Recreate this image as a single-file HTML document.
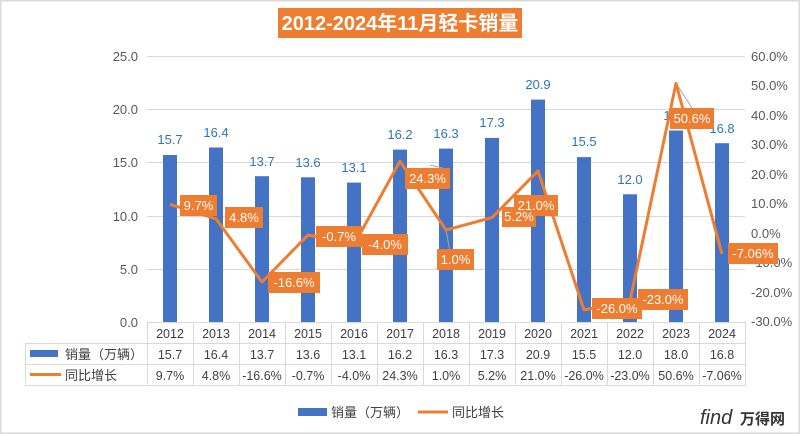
<!DOCTYPE html>
<html><head><meta charset="utf-8"><style>
body{margin:0;background:#fff}
svg{display:block;font-family:"Liberation Sans","Noto Sans CJK SC",sans-serif}
</style></head><body>
<svg width="800" height="434" viewBox="0 0 800 434">
<rect x="0.5" y="0.5" width="799" height="433" fill="#fff" stroke="#d9d9d9" stroke-width="2"/>
<rect x="278" y="8" width="244" height="30" fill="#ed7d31"/>
<text x="400" y="30" text-anchor="middle" font-size="20" font-weight="bold" fill="#fff">2012-2024年11月轻卡销量</text>
<g stroke="#d9d9d9" stroke-width="1">
<line x1="147" x2="745" y1="56.5" y2="56.5"/><line x1="147" x2="745" y1="109.5" y2="109.5"/>
<line x1="147" x2="745" y1="162.5" y2="162.5"/><line x1="147" x2="745" y1="216.5" y2="216.5"/>
<line x1="147" x2="745" y1="269.5" y2="269.5"/>
</g>
<g font-size="13" fill="#595959" text-anchor="end">
<text x="138" y="61">25.0</text><text x="138" y="114">20.0</text><text x="138" y="167">15.0</text>
<text x="138" y="221">10.0</text><text x="138" y="274">5.0</text><text x="138" y="327">0.0</text>
</g>
<g font-size="13" fill="#595959" text-anchor="start">
<text x="751" y="61">60.0%</text><text x="751" y="90">50.0%</text><text x="751" y="120">40.0%</text>
<text x="751" y="149">30.0%</text><text x="751" y="179">20.0%</text><text x="751" y="208">10.0%</text>
<text x="751" y="238">0.0%</text><text x="751" y="267">-10.0%</text><text x="751" y="297">-20.0%</text>
<text x="751" y="326">-30.0%</text>
</g>
<g fill="#4472c4">
<rect x="163" y="155" width="14" height="167"/><rect x="209" y="147.5" width="14" height="174.5"/>
<rect x="255" y="176.2" width="14" height="145.8"/><rect x="301" y="177.3" width="14" height="144.7"/>
<rect x="347" y="182.6" width="14" height="139.4"/><rect x="393" y="149.6" width="14" height="172.4"/>
<rect x="439" y="148.6" width="14" height="173.4"/><rect x="485" y="137.9" width="14" height="184.1"/>
<rect x="531" y="99.6" width="14" height="222.4"/><rect x="577" y="157.1" width="14" height="164.9"/>
<rect x="623" y="194.3" width="14" height="127.7"/><rect x="669" y="130.5" width="14" height="191.5"/>
<rect x="715" y="143.2" width="14" height="178.8"/>
</g>
<g font-size="13" fill="#2e75b6" text-anchor="middle">
<text x="170" y="144">15.7</text><text x="216" y="137">16.4</text><text x="262" y="166">13.7</text>
<text x="308" y="167">13.6</text><text x="354" y="172">13.1</text><text x="400" y="139">16.2</text>
<text x="446" y="138">16.3</text><text x="492" y="127">17.3</text><text x="538" y="89">20.9</text>
<text x="584" y="146">15.5</text><text x="630" y="184">12.0</text><text x="676" y="120">18.0</text>
<text x="722" y="133">16.8</text>
</g>
<g stroke="#a6a6a6" stroke-width="1">
<line x1="430" y1="165" x2="450" y2="170"/><line x1="450" y1="252" x2="446" y2="230"/>
<line x1="676" y1="83" x2="692" y2="108"/>
</g>
<polyline fill="none" stroke="#ed7d31" stroke-width="3" stroke-linejoin="round" points="170,204.3 216,218.8 262,282 308,235 354,244.8 400,161.2 446,230 492,217.6 538,170.9 584,309.9 630,301 676,83.4 722,253.9"/>
<g fill="#ed7d31">
<rect x="180" y="195" width="37" height="21"/><rect x="225" y="207" width="38" height="21"/>
<rect x="268" y="272" width="52" height="21"/><rect x="316" y="226" width="46" height="21"/>
<rect x="362" y="234" width="46" height="21"/><rect x="405" y="168" width="45" height="21"/>
<rect x="437" y="249" width="37" height="21"/><rect x="502" y="207" width="34" height="20"/>
<rect x="514" y="195" width="44" height="21"/><rect x="592" y="298" width="50" height="21"/>
<rect x="638" y="289" width="50" height="21"/><rect x="670" y="108" width="44" height="21"/>
<rect x="728" y="243" width="50" height="21"/>
</g>
<g font-size="13" fill="#fff" text-anchor="middle">
<text x="198.5" y="210">9.7%</text><text x="244" y="222">4.8%</text><text x="294" y="287">-16.6%</text>
<text x="339" y="241">-0.7%</text><text x="385" y="249">-4.0%</text><text x="427.5" y="183">24.3%</text>
<text x="455.5" y="264">1.0%</text><text x="519" y="221">5.2%</text><text x="536" y="210">21.0%</text>
<text x="617" y="313">-26.0%</text><text x="663" y="304">-23.0%</text><text x="692" y="123">50.6%</text>
<text x="753" y="258">-7.06%</text>
</g>
<g stroke="#d9d9d9" stroke-width="1" fill="none">
<line x1="147" y1="322.5" x2="745" y2="322.5"/>
<line x1="25" y1="343.5" x2="745" y2="343.5"/><line x1="25" y1="364.5" x2="745" y2="364.5"/>
<line x1="25" y1="385.5" x2="745" y2="385.5"/>
<line x1="25.5" y1="343" x2="25.5" y2="386"/>
<line x1="147.5" y1="322" x2="147.5" y2="386"/><line x1="193.5" y1="322" x2="193.5" y2="386"/>
<line x1="239.5" y1="322" x2="239.5" y2="386"/><line x1="285.5" y1="322" x2="285.5" y2="386"/>
<line x1="331.5" y1="322" x2="331.5" y2="386"/><line x1="377.5" y1="322" x2="377.5" y2="386"/>
<line x1="423.5" y1="322" x2="423.5" y2="386"/><line x1="469.5" y1="322" x2="469.5" y2="386"/>
<line x1="515.5" y1="322" x2="515.5" y2="386"/><line x1="561.5" y1="322" x2="561.5" y2="386"/>
<line x1="607.5" y1="322" x2="607.5" y2="386"/><line x1="653.5" y1="322" x2="653.5" y2="386"/>
<line x1="699.5" y1="322" x2="699.5" y2="386"/><line x1="745.5" y1="322" x2="745.5" y2="386"/>
</g>
<rect x="30" y="350" width="28" height="7" fill="#4472c4"/>
<line x1="30" y1="374.5" x2="61" y2="374.5" stroke="#ed7d31" stroke-width="3"/>
<g font-size="13" fill="#404040">
<text x="65" y="359">销量（万辆）</text><text x="65" y="380">同比增长</text>
</g>
<g font-size="12.5" fill="#404040" text-anchor="middle">
<text x="170" y="338">2012</text><text x="216" y="338">2013</text><text x="262" y="338">2014</text><text x="308" y="338">2015</text><text x="354" y="338">2016</text><text x="400" y="338">2017</text><text x="446" y="338">2018</text><text x="492" y="338">2019</text><text x="538" y="338">2020</text><text x="584" y="338">2021</text><text x="630" y="338">2022</text><text x="676" y="338">2023</text><text x="722" y="338">2024</text>
<text x="170" y="359">15.7</text><text x="216" y="359">16.4</text><text x="262" y="359">13.7</text><text x="308" y="359">13.6</text><text x="354" y="359">13.1</text><text x="400" y="359">16.2</text><text x="446" y="359">16.3</text><text x="492" y="359">17.3</text><text x="538" y="359">20.9</text><text x="584" y="359">15.5</text><text x="630" y="359">12.0</text><text x="676" y="359">18.0</text><text x="722" y="359">16.8</text>
<text x="170" y="380">9.7%</text><text x="216" y="380">4.8%</text><text x="262" y="380">-16.6%</text><text x="308" y="380">-0.7%</text><text x="354" y="380">-4.0%</text><text x="400" y="380">24.3%</text><text x="446" y="380">1.0%</text><text x="492" y="380">5.2%</text><text x="538" y="380">21.0%</text><text x="584" y="380">-26.0%</text><text x="630" y="380">-23.0%</text><text x="676" y="380">50.6%</text><text x="722" y="380">-7.06%</text>
</g>
<rect x="298" y="408" width="29" height="8" fill="#4472c4"/>
<text x="331" y="417" font-size="13" fill="#404040">销量（万辆）</text>
<line x1="418" y1="412" x2="448" y2="412" stroke="#ed7d31" stroke-width="3"/>
<text x="452" y="417" font-size="13" fill="#404040">同比增长</text>
<text x="700" y="424" font-size="20" fill="#333" font-style="italic">find</text>
<text x="740" y="424" font-size="15" fill="#333" font-weight="bold">万得网</text>
</svg>
</body></html>
